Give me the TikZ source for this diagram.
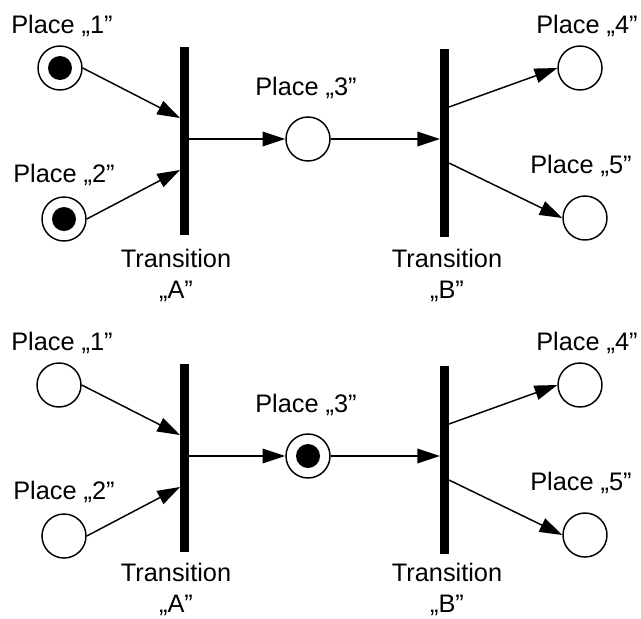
\documentclass[tikz,border=0pt]{standalone}
\usepackage{fontspec}
\setmainfont{Liberation Sans}
\usetikzlibrary{arrows.meta}

\tikzset{every picture/.style={line width=0.75pt}}
\tikzset{
  place/.style={circle, draw, line width=1.1pt, minimum size=33pt, inner sep=0pt},
  token/.style={circle, fill, minimum size=18pt, inner sep=0pt},
  trans/.style={rectangle, fill, minimum width=6.75pt, minimum height=141pt, inner sep=0pt},
  arc/.style={-{Triangle[length=17pt,width=11pt]}, line width=1.1pt},
  lbl/.style={inner sep=0pt, font=\fontsize{19}{23.3}\selectfont},
}

\begin{document}
\begin{tikzpicture}[x=0.75pt,y=0.75pt,yscale=-1,xscale=1]
\path[use as bounding box] (0,0) rectangle (641,618);

%Upper net: tokens in Place 1 and Place 2
%Shape: Circle
\node[place] (p1u) at (60,68) {};
\node[token] (k1u) at (p1u) {};
\node[place] (p2u) at (64,219) {};
\node[token] (k2u) at (p2u) {};
\node[place] (p3u) at (308,139) {};
\node[place] (p4u) at (580,68) {};
\node[place] (p5u) at (585,218) {};
%Shape: Bar
\node[trans] (tAu) at (184.5,141) {};
\node[trans] (tBu) at (444.5,143) {};
\coordinate (a1u) at (180,118);
\coordinate (a2u) at (180,170);
\coordinate (a3u) at (189,139);
\coordinate (b1u) at (440,139);
\coordinate (b2u) at (449,107);
\coordinate (b3u) at (449,163);
%Straight Lines
\draw[arc] (p1u.east) -- (a1u);
\draw[arc] (p2u.east) -- (a2u);
\draw[arc] (a3u) -- (p3u);
\draw[arc] (p3u) -- (b1u);
\draw[arc] (b2u) -- (p4u.west);
\draw[arc] (b3u) -- (p5u.west);

% Text Node
\node[lbl, anchor=base] (l1u) at (62,33) {Place „1”};
% Text Node
\node[lbl, anchor=base] (l2u) at (64,182) {Place „2”};
% Text Node
\node[lbl, anchor=base] (l3u) at (306,95) {Place „3”};
% Text Node
\node[lbl, anchor=base] (l4u) at (587,33) {Place „4”};
% Text Node
\node[lbl, anchor=base] (l5u) at (581,173) {Place „5”};
% Text Node
\node[lbl, anchor=north, align=center] (lAu) at (176,249) {Transition\\„A”};
% Text Node
\node[lbl, anchor=north, align=center] (lBu) at (447,249) {Transition\\„B”};

%Lower net: token moved to Place 3
%Shape: Circle
\node[place] (p1d) at (59,385) {};
\node[place] (p2d) at (64,536) {};
\node[place] (p3d) at (308,456) {};
\node[token] (k3d) at (p3d) {};
\node[place] (p4d) at (580,385) {};
\node[place] (p5d) at (585,535) {};
%Shape: Bar
\node[trans] (tAd) at (184.5,458) {};
\node[trans] (tBd) at (444.5,460) {};
\coordinate (a1d) at (180,435);
\coordinate (a2d) at (180,487);
\coordinate (a3d) at (189,456);
\coordinate (b1d) at (440,456);
\coordinate (b2d) at (449,424);
\coordinate (b3d) at (449,480);
%Straight Lines
\draw[arc] (p1d.east) -- (a1d);
\draw[arc] (p2d.east) -- (a2d);
\draw[arc] (a3d) -- (p3d);
\draw[arc] (p3d) -- (b1d);
\draw[arc] (b2d) -- (p4d.west);
\draw[arc] (b3d) -- (p5d.west);

% Text Node
\node[lbl, anchor=base] (l1d) at (62,350) {Place „1”};
% Text Node
\node[lbl, anchor=base] (l2d) at (64,499) {Place „2”};
% Text Node
\node[lbl, anchor=base] (l3d) at (306,412) {Place „3”};
% Text Node
\node[lbl, anchor=base] (l4d) at (587,350) {Place „4”};
% Text Node
\node[lbl, anchor=base] (l5d) at (581,490) {Place „5”};
% Text Node
\node[lbl, anchor=north, align=center] (lAd) at (176,563) {Transition\\„A”};
% Text Node
\node[lbl, anchor=north, align=center] (lBd) at (447,563) {Transition\\„B”};

\end{tikzpicture}
\end{document}
